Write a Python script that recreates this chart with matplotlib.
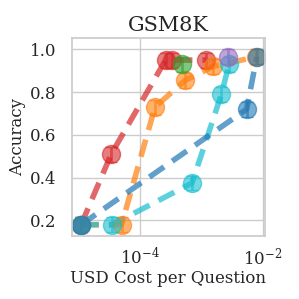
import matplotlib

matplotlib.use("Agg")
import matplotlib.pyplot as plt
import seaborn as sns

# * data
red_cost = [1.1e-5, 3.4e-5, 2.6e-4, 3.3e-4, 1.2e-3]
red_acc = [0.18, 0.51, 0.95, 0.95, 0.95]

orange_cost = [1.1e-5, 5.0e-5, 1.75e-4, 5.4e-4, 1.55e-3, 7.6e-3]
orange_acc = [0.18, 0.18, 0.73, 0.855, 0.92, 0.965]

cyan_cost = [1.1e-5, 3.5e-5, 7.0e-4, 2.1e-3, 2.8e-3]
cyan_acc = [0.18, 0.18, 0.375, 0.79, 0.93]

blue_cost = [1.1e-5, 5.4e-3, 7.9e-3]
blue_acc = [0.18, 0.72, 0.965]

green_cost = [4.8e-4]
green_acc = [0.93]

purple_cost = [2.7e-3]
purple_acc = [0.965]

series = [
    ("tab:red", red_cost, red_acc),
    ("tab:orange", orange_cost, orange_acc),
    ("tab:cyan", cyan_cost, cyan_acc),
    ("tab:blue", blue_cost, blue_acc),
    ("tab:green", green_cost, green_acc),
    ("tab:purple", purple_cost, purple_acc),
]

sns.set_theme(style="whitegrid", font="serif")
plt.rcParams["font.family"] = ["DejaVu Serif"]

fig = plt.figure(figsize=(2.99, 2.99), dpi=100)
ax = fig.add_axes([0.24, 0.212, 0.646, 0.66])

for color, cost, acc in series:
    ax.plot(cost, acc, "--", color=color, lw=4, alpha=0.7, dashes=(3.2, 1.8))
    ax.errorbar(
        cost,
        acc,
        yerr=0.035,
        fmt="o",
        color=color,
        markersize=13,
        alpha=0.6,
        capsize=4,
        elinewidth=2,
    )

ax.set_xscale("log")
ax.set_xlim(10**-5.11, 10**-1.97)
ax.set_ylim(0.129, 1.052)
ax.set_xticks([1e-4, 1e-2])
ax.minorticks_off()
ax.set_yticks([0.2, 0.4, 0.6, 0.8, 1.0])
ax.tick_params(labelsize=12)
ax.tick_params(axis="y", pad=5)
ax.tick_params(axis="x", pad=2)
ax.set_title("GSM8K", fontsize=15, pad=5)
ax.set_xlabel("USD Cost per Question", fontsize=12, labelpad=1)
ax.set_ylabel("Accuracy", fontsize=12, labelpad=3)

fig.savefig("out.png", dpi=100)
